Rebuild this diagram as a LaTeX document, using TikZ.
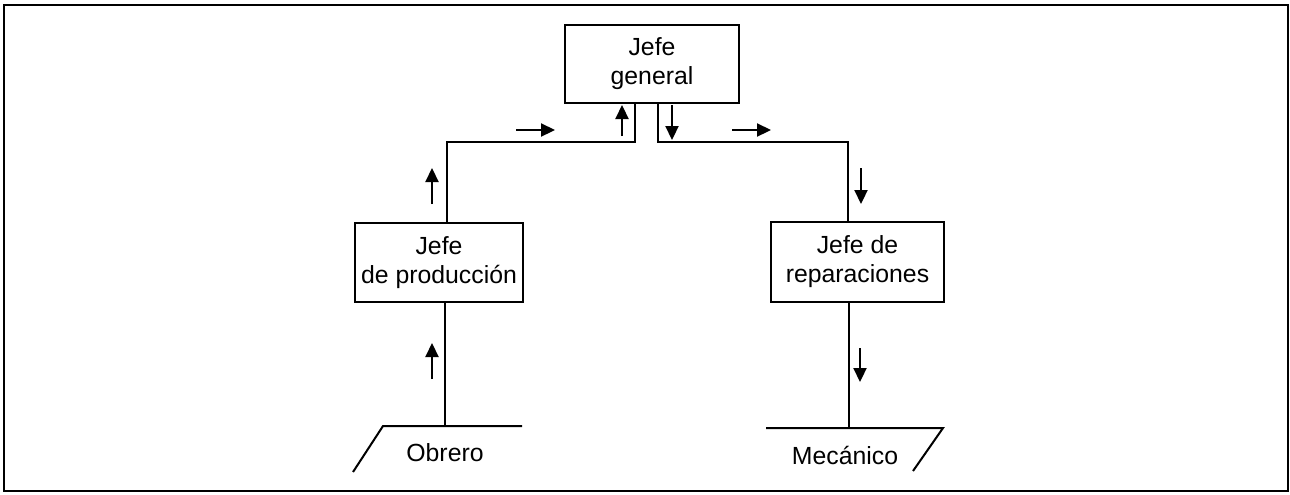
\documentclass[tikz,border=0pt]{standalone}
\usepackage{fontspec}
\setmainfont{Liberation Sans}
\usetikzlibrary{arrows.meta}
\begin{document}
\begin{tikzpicture}[x=0.5pt,y=-0.5pt,
  box/.style={draw,line width=1.3pt,inner sep=0pt,align=center,
    font=\fontsize{12.4}{14.5}\selectfont},
  lbl/.style={inner sep=0pt,font=\fontsize{12.4}{14.5}\selectfont},
  conn/.style={line width=1pt},
  arr/.style={line width=1.1pt,-{Triangle[length=7pt,width=6.5pt]}}]
\useasboundingbox (0,0) rectangle (1290,494);
\draw[line width=1.1pt] (4,5) rectangle (1288,491);
% boxes
\node[box,minimum width=87pt,minimum height=39pt] (gen) at (652,64) {Jefe\\general};
\node[box,minimum width=84pt,minimum height=39.5pt] (prod) at (439,262.5) {Jefe\\de producción};
\node[box,minimum width=86.5pt,minimum height=40pt] (rep) at (857.5,262) {Jefe de\\reparaciones};
\node[lbl] (obr) at (445,453) {Obrero};
\node[lbl] (mec) at (845,455) {Mecánico};
% corner coordinates
\coordinate (ltop) at (447,142);
\coordinate (gl) at (635,142);
\coordinate (gr) at (658,142);
\coordinate (rtop) at (848,142);
\coordinate (obtop) at (445,426);
\coordinate (metop) at (849,428);
% connectors
\draw[conn] (prod.north -| ltop) -- (ltop) -- (gl) -- (gl |- gen.south);
\draw[conn] (gen.south -| gr) -- (gr) -- (rtop) -- (rtop |- rep.north);
\draw[conn] (prod.south -| obtop) -- (obtop);
\draw[conn] (rep.south -| metop) -- (metop);
% sources / sinks
\draw[conn] (353,472) -- (383,426) -- (522,426);
\draw[conn] (766,428) -- (943,428) -- (913,471);
% flow arrows
\draw[arr] (516,130) -- (555,130);
\draw[arr] (732,130) -- (771,130);
\draw[arr] (622,136) -- (622,105);
\draw[arr] (672,105) -- (672,140);
\draw[arr] (432,204) -- (432,168);
\draw[arr] (432,379) -- (432,343);
\draw[arr] (861,168) -- (861,204);
\draw[arr] (860,348) -- (860,382);
\end{tikzpicture}
\end{document}
